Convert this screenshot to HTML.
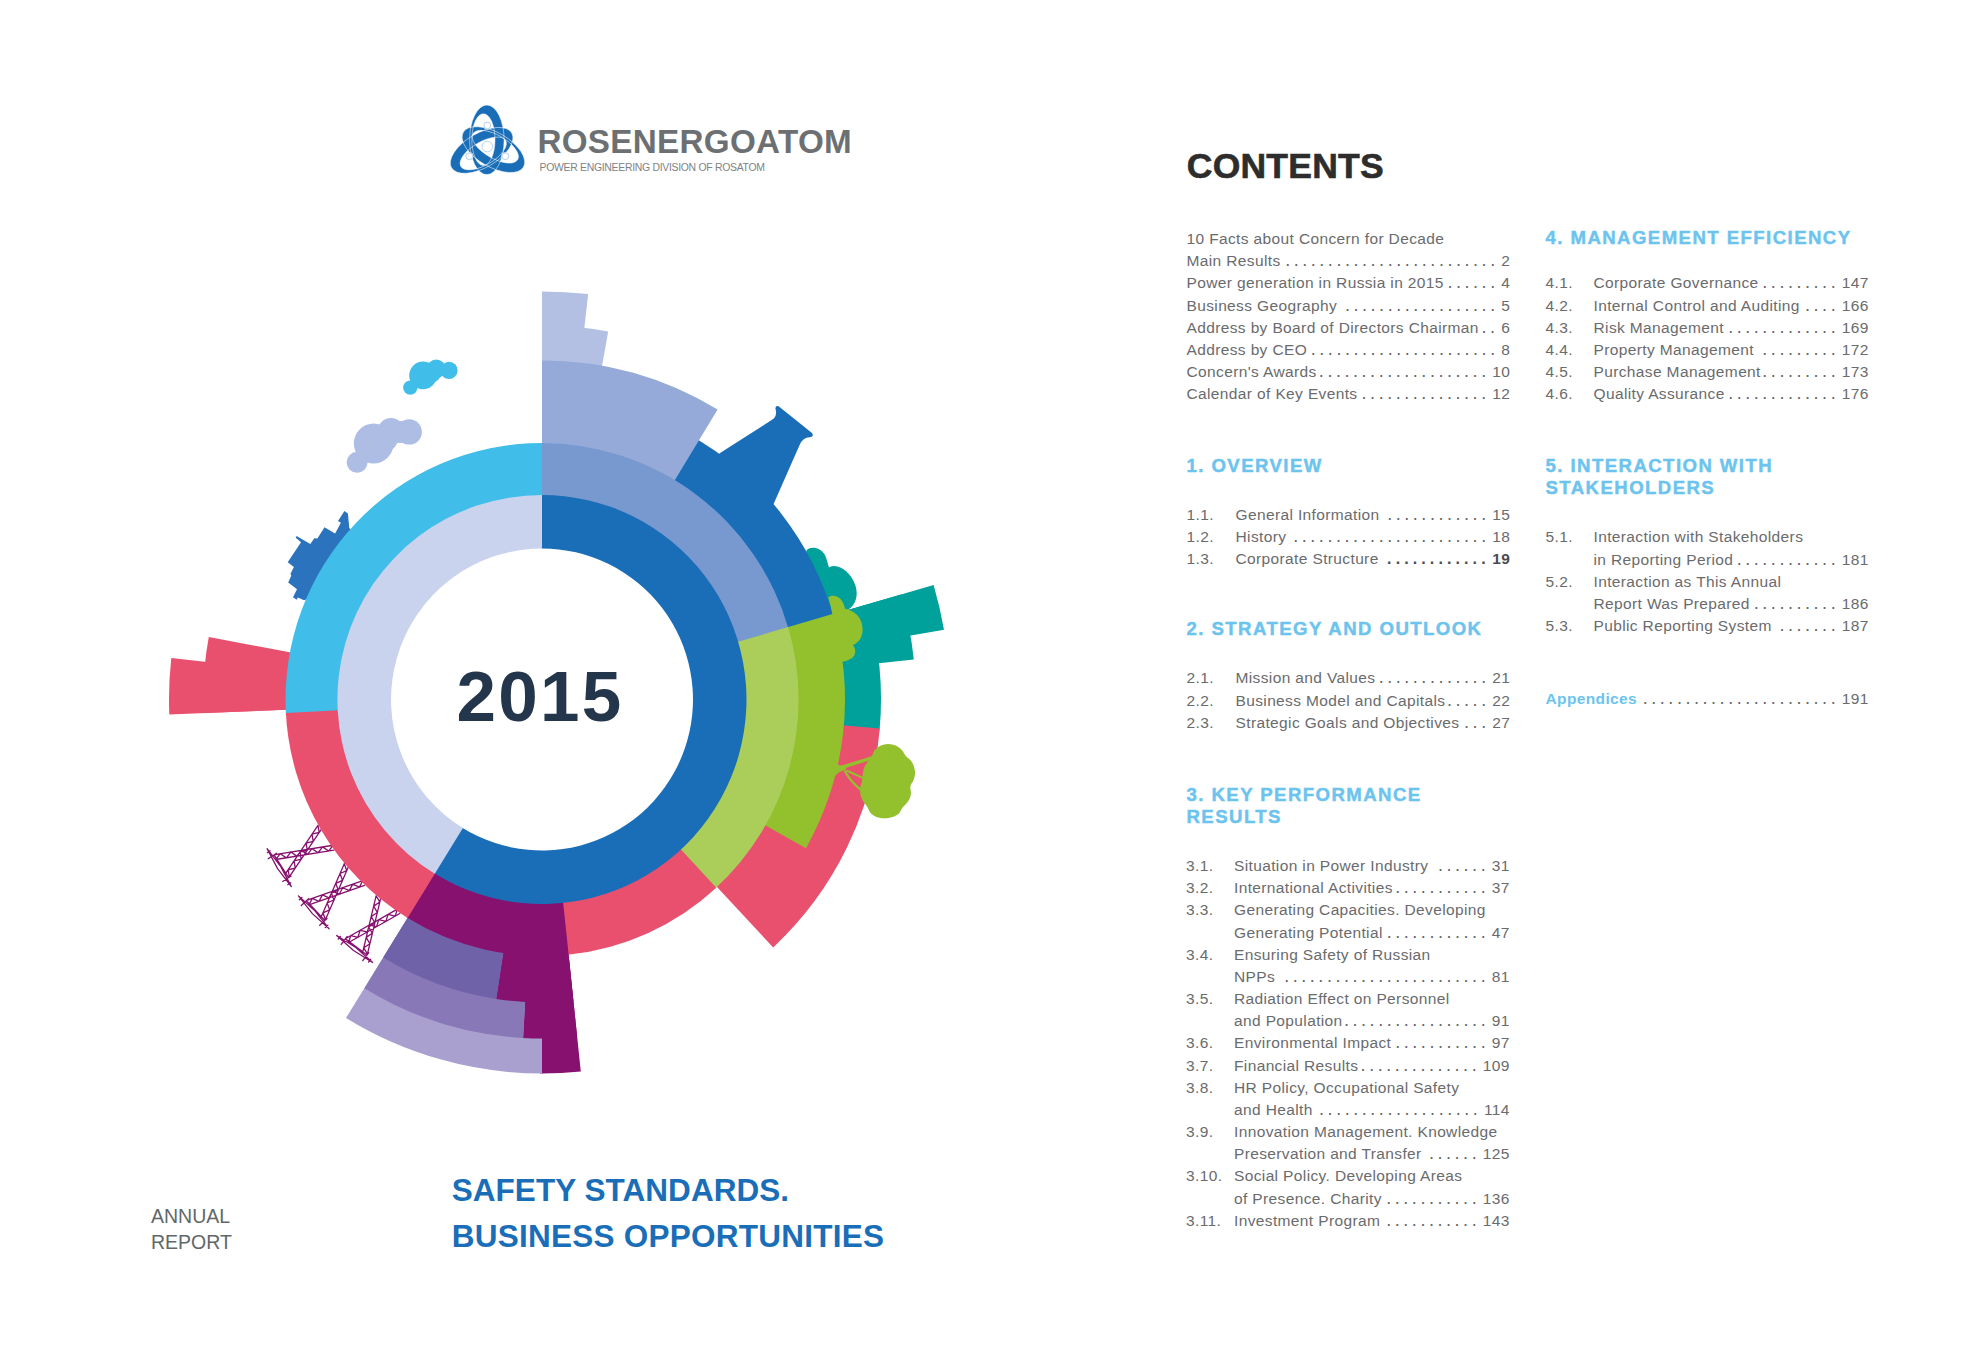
<!DOCTYPE html>
<html lang="en"><head><meta charset="utf-8"><title>Rosenergoatom Annual Report 2015 - Contents</title>
<style>
html,body{margin:0;padding:0;background:#fff}
body{width:1984px;height:1355px;position:relative;overflow:hidden;font-family:"Liberation Sans",sans-serif;color:#6a6b6d}
.art{position:absolute;left:0;top:0}
.abs{position:absolute;white-space:nowrap;line-height:1}
.brand{left:537.4px;top:125px;font-size:33.2px;font-weight:bold;color:#6d7073;letter-spacing:.33px}
.sub{left:539.5px;top:163.3px;font-size:10.45px;color:#808285;letter-spacing:-.3px}
.year{left:456.6px;top:661.3px;font-size:71px;font-weight:bold;color:#24364b;letter-spacing:2.2px}
.ar{left:151px;top:1203px;font-size:19.5px;line-height:26.2px;color:#5f6868}
.slogan{left:451.7px;font-size:31.5px;font-weight:bold;color:#1a6eb8}
.s1{top:1175.4px;letter-spacing:.05px}
.s2{top:1220.7px;letter-spacing:.25px}
.contents{left:1186.8px;top:149.1px;font-size:35.5px;font-weight:bold;color:#2d2d2d;letter-spacing:.22px;-webkit-text-stroke:.6px #2d2d2d}
.r{position:absolute;display:flex;align-items:baseline;height:22px;line-height:22px;font-size:15.5px;letter-spacing:.37px;white-space:nowrap;color:#6a6b6d}
.r .n{flex:none;display:inline-block}
.r .t{flex:none;white-space:pre}
.r .d{flex:1 1 0;min-width:0;text-align:right;white-space:pre;font-size:18px;line-height:20.2px;height:22px;letter-spacing:-.73px;color:#666769}
.r .p{flex:none;padding-left:6.9px}
.r .b{font-weight:bold;color:#4a4b4d}
.r .d.b{font-size:16px;letter-spacing:-.17px;line-height:21.6px}
.ap{color:#6cc4ee;font-weight:bold}
.h{position:absolute;white-space:nowrap;height:22px;line-height:22px;font-size:18.6px;font-weight:bold;letter-spacing:1.43px;color:#6cc4ee;-webkit-text-stroke:.45px #6cc4ee}
</style></head><body>
<svg class="art" width="1984" height="1355" viewBox="0 0 1984 1355">
<g transform="translate(326.8 837.2) rotate(237.4)" stroke="#87116f" stroke-width="1.3" fill="none" stroke-linecap="round" stroke-linejoin="round"><path d="M-10.2 1.0 L13.3 -53.0 M-14.8 -1.0 L8.7 -55.0 M-10.2 1.0 L-12.7 -5.9 M-12.7 -5.9 L-5.9 -8.8 M-5.9 -8.8 L-8.4 -15.7 M-8.4 -15.7 L-1.7 -18.6 M-1.7 -18.6 L-4.1 -25.5 M-4.1 -25.5 L2.6 -28.5 M2.6 -28.5 L0.2 -35.4 M0.2 -35.4 L6.9 -38.3 M6.9 -38.3 L4.4 -45.2 M4.4 -45.2 L11.2 -48.1 M11.2 -48.1 L8.7 -55.0 M14.8 -1.0 L-8.7 -55.0 M10.2 1.0 L-13.3 -53.0 M14.8 -1.0 L8.1 -3.9 M8.1 -3.9 L10.5 -10.8 M10.5 -10.8 L3.8 -13.7 M3.8 -13.7 L6.2 -20.6 M6.2 -20.6 L-0.5 -23.5 M-0.5 -23.5 L2.0 -30.5 M2.0 -30.5 L-4.7 -33.4 M-4.7 -33.4 L-2.3 -40.3 M-2.3 -40.3 L-9.0 -43.2 M-9.0 -43.2 L-6.6 -50.1 M-6.6 -50.1 L-13.3 -53.0 M-13.5 -54.0 L13.5 -54.0 M-22.5 -56.5 L0 -54.6 L22.5 -56.5 L0 -58.4 Z M-13.5 -51.0 L-13.5 -61.0 M13.5 -51.0 L13.5 -61.0 M-19.0 -55.0 L-19.0 -58.5 M19.0 -55.0 L19.0 -58.5"/></g>
<g transform="translate(355.1 873.8) rotate(227.0)" stroke="#87116f" stroke-width="1.3" fill="none" stroke-linecap="round" stroke-linejoin="round"><path d="M-10.2 1.0 L13.3 -53.0 M-14.8 -1.0 L8.7 -55.0 M-10.2 1.0 L-12.7 -5.9 M-12.7 -5.9 L-5.9 -8.8 M-5.9 -8.8 L-8.4 -15.7 M-8.4 -15.7 L-1.7 -18.6 M-1.7 -18.6 L-4.1 -25.5 M-4.1 -25.5 L2.6 -28.5 M2.6 -28.5 L0.2 -35.4 M0.2 -35.4 L6.9 -38.3 M6.9 -38.3 L4.4 -45.2 M4.4 -45.2 L11.2 -48.1 M11.2 -48.1 L8.7 -55.0 M14.8 -1.0 L-8.7 -55.0 M10.2 1.0 L-13.3 -53.0 M14.8 -1.0 L8.1 -3.9 M8.1 -3.9 L10.5 -10.8 M10.5 -10.8 L3.8 -13.7 M3.8 -13.7 L6.2 -20.6 M6.2 -20.6 L-0.5 -23.5 M-0.5 -23.5 L2.0 -30.5 M2.0 -30.5 L-4.7 -33.4 M-4.7 -33.4 L-2.3 -40.3 M-2.3 -40.3 L-9.0 -43.2 M-9.0 -43.2 L-6.6 -50.1 M-6.6 -50.1 L-13.3 -53.0 M-13.5 -54.0 L13.5 -54.0 M-22.5 -56.5 L0 -54.6 L22.5 -56.5 L0 -58.4 Z M-13.5 -51.0 L-13.5 -61.0 M13.5 -51.0 L13.5 -61.0 M-19.0 -55.0 L-19.0 -58.5 M19.0 -55.0 L19.0 -58.5"/></g>
<g transform="translate(388.6 903.8) rotate(216.9)" stroke="#87116f" stroke-width="1.3" fill="none" stroke-linecap="round" stroke-linejoin="round"><path d="M-10.2 1.0 L13.3 -53.0 M-14.8 -1.0 L8.7 -55.0 M-10.2 1.0 L-12.7 -5.9 M-12.7 -5.9 L-5.9 -8.8 M-5.9 -8.8 L-8.4 -15.7 M-8.4 -15.7 L-1.7 -18.6 M-1.7 -18.6 L-4.1 -25.5 M-4.1 -25.5 L2.6 -28.5 M2.6 -28.5 L0.2 -35.4 M0.2 -35.4 L6.9 -38.3 M6.9 -38.3 L4.4 -45.2 M4.4 -45.2 L11.2 -48.1 M11.2 -48.1 L8.7 -55.0 M14.8 -1.0 L-8.7 -55.0 M10.2 1.0 L-13.3 -53.0 M14.8 -1.0 L8.1 -3.9 M8.1 -3.9 L10.5 -10.8 M10.5 -10.8 L3.8 -13.7 M3.8 -13.7 L6.2 -20.6 M6.2 -20.6 L-0.5 -23.5 M-0.5 -23.5 L2.0 -30.5 M2.0 -30.5 L-4.7 -33.4 M-4.7 -33.4 L-2.3 -40.3 M-2.3 -40.3 L-9.0 -43.2 M-9.0 -43.2 L-6.6 -50.1 M-6.6 -50.1 L-13.3 -53.0 M-13.5 -54.0 L13.5 -54.0 M-22.5 -56.5 L0 -54.6 L22.5 -56.5 L0 -58.4 Z M-13.5 -51.0 L-13.5 -61.0 M13.5 -51.0 L13.5 -61.0 M-19.0 -55.0 L-19.0 -58.5 M19.0 -55.0 L19.0 -58.5"/></g>
<polygon points="349.3,528.1 347.9,513.5 344.4,511.1 338.0,521.0 340.9,522.8 335.1,533.4 324.5,527.2 317.4,538.5 314.3,538.3 310.3,544.0 296.6,536.1 295.7,537.8 301.0,542.3 287.7,562.2 293.9,567.1 290.4,574.1 291.3,575.5 288.2,582.6 297.0,589.2 293.0,597.2 296.6,599.8 297.9,597.6 304.1,600.3 330.0,590.0 360.0,540.0" fill="#2b74bd"/>
<path d="M 806.3 550.8 C 808.7 546.0 820.9 546.0 825.3 555.7 C 826.9 559.8 827.9 563.8 829.0 567.4 C 837.9 562.5 850.9 572.0 855.5 585.8 C 858.4 595.5 856.1 604.4 848.5 609.6 L 824.9 617.4 L 805.5 572.0 Z" fill="#00a19a"/>
<path d="M697.6 439.5 A303.0 303.0 0 0 1 833.1 615.5 L738.5 642.8 A204.5 204.5 0 0 0 647.0 524.0 Z" fill="#1a6eb8"/>
<path d="M719.3 453.4 L772 419.8 Q777.5 416 775.6 409.5 Q774.8 405.2 778.6 406.3 L812 433 Q814.5 436.5 810 437.2 Q803 437 799.6 445 L773.7 503.7 L750 520 L715 470 Z" fill="#1a6eb8"/>
<path d="M542.0 291.5 A408.0 408.0 0 0 1 588.2 294.1 L570.8 446.6 A254.5 254.5 0 0 0 542.0 445.0 Z" fill="#b3c0e4"/>
<path d="M542.0 325.5 A374.0 374.0 0 0 1 608.2 331.4 L587.1 449.0 A254.5 254.5 0 0 0 542.0 445.0 Z" fill="#b3c0e4"/>
<path d="M542.0 360.5 A339.0 339.0 0 0 1 717.6 409.5 L647.9 524.6 A204.5 204.5 0 0 0 542.0 495.0 Z" fill="#95aad8"/>
<path d="M933.6 585.0 A408.0 408.0 0 0 1 944.0 629.7 L792.7 656.0 A254.5 254.5 0 0 0 786.3 628.1 Z" fill="#00a19a"/>
<path d="M901.0 594.5 A374.0 374.0 0 0 1 913.8 659.4 L795.0 672.2 A254.5 254.5 0 0 0 786.3 628.1 Z" fill="#00a19a"/>
<path d="M867.4 604.4 A339.0 339.0 0 0 1 879.6 730.2 L795.5 722.6 A254.5 254.5 0 0 0 786.3 628.1 Z" fill="#00a19a"/>
<path d="M879.8 728.5 A339.0 339.0 0 0 1 773.2 947.4 L715.6 885.6 A254.5 254.5 0 0 0 795.6 721.2 Z" fill="#e9506e"/>
<path d="M832.7 614.0 A303.0 303.0 0 0 1 806.0 848.2 L720.2 799.9 A204.5 204.5 0 0 0 738.2 641.8 Z" fill="#93c02d"/>
<path d="M580.8 1071.5 A374.0 374.0 0 0 1 540.0 1073.5 L540.9 904.0 A204.5 204.5 0 0 0 563.2 902.9 Z" fill="#87116f"/>
<path d="M542.0 1073.5 A374.0 374.0 0 0 1 346.0 1018.0 L408.6 916.3 A254.5 254.5 0 0 0 542.0 954.0 Z" fill="#a9a0cf"/>
<path d="M577.1 1036.7 A339.0 339.0 0 0 1 523.1 1038.0 L530.6 903.7 A204.5 204.5 0 0 0 563.2 902.9 Z" fill="#87116f"/>
<path d="M523.1 1038.0 A339.0 339.0 0 0 1 364.4 988.2 L408.6 916.3 A254.5 254.5 0 0 0 527.8 953.6 Z" fill="#8878b7"/>
<path d="M573.4 1000.9 A303.0 303.0 0 0 1 496.2 999.0 L511.1 901.6 A204.5 204.5 0 0 0 563.2 902.9 Z" fill="#87116f"/>
<path d="M496.2 999.0 A303.0 303.0 0 0 1 383.2 957.6 L408.6 916.3 A254.5 254.5 0 0 0 503.5 951.1 Z" fill="#7062a9"/>
<path d="M169.3 714.5 A373.0 373.0 0 0 1 171.3 657.9 L338.8 676.7 A204.5 204.5 0 0 0 337.7 707.7 Z" fill="#e9506e"/>
<path d="M203.3 713.1 A339.0 339.0 0 0 1 208.8 637.1 L341.0 661.9 A204.5 204.5 0 0 0 337.7 707.7 Z" fill="#e9506e"/>
<path d="M540.7 443.0 A256.5 256.5 0 0 1 788.4 628.4 L737.5 643.1 A203.5 203.5 0 0 0 540.9 496.0 Z" fill="#7899d0"/>
<path d="M788.1 627.1 A256.5 256.5 0 0 1 715.3 888.6 L679.5 849.5 A203.5 203.5 0 0 0 737.2 642.0 Z" fill="#abcd5a"/>
<path d="M716.3 887.7 A256.5 256.5 0 0 1 567.3 954.8 L562.0 902.0 A203.5 203.5 0 0 0 680.3 848.8 Z" fill="#e9506e"/>
<path d="M568.6 954.6 A256.5 256.5 0 0 1 406.5 917.3 L434.5 872.3 A203.5 203.5 0 0 0 563.1 901.9 Z" fill="#87116f"/>
<path d="M407.6 918.0 A256.5 256.5 0 0 1 285.8 711.6 L338.7 709.1 A203.5 203.5 0 0 0 435.4 872.8 Z" fill="#e9506e"/>
<path d="M285.9 712.9 A256.5 256.5 0 0 1 542.0 443.0 L542.0 496.0 A203.5 203.5 0 0 0 338.8 710.2 Z" fill="#41bde9"/>
<path d="M540.9 495.0 A204.5 204.5 0 1 1 433.9 873.1 L462.2 827.7 A151.0 151.0 0 1 0 541.2 548.5 Z" fill="#1a6eb8"/>
<path d="M434.8 873.7 A204.5 204.5 0 0 1 542.0 495.0 L542.0 548.5 A151.0 151.0 0 0 0 462.9 828.1 Z" fill="#c9d3ee"/>
<path d="M 831.4 619.4 L 832.4 614.2 L 830.5 605.2 L 828.2 597.3 C 833.1 593.4 843.1 596.3 844.9 608.7 C 854.2 610.1 862.3 617.4 862.6 628.8 C 862.9 636.9 859.0 642.6 852.9 645.0 C 856.9 649.9 856.1 657.2 848.5 660.0 C 846.9 660.9 844.8 661.3 843.6 661.6 L 829.8 662.9 Z" fill="#93c02d"/>
<circle cx="410.3" cy="387.6" r="7.2" fill="#41bde9"/>
<circle cx="423.0" cy="375.4" r="13.8" fill="#41bde9"/>
<circle cx="436.3" cy="368.8" r="9.4" fill="#41bde9"/>
<circle cx="449.0" cy="370.4" r="8.6" fill="#41bde9"/>
<circle cx="431.0" cy="373.0" r="10.0" fill="#41bde9"/>
<circle cx="357.1" cy="462.3" r="10.5" fill="#adbde4"/>
<circle cx="373.7" cy="443.5" r="19.9" fill="#adbde4"/>
<circle cx="390.9" cy="431.3" r="13.3" fill="#adbde4"/>
<circle cx="409.2" cy="431.9" r="12.7" fill="#adbde4"/>
<circle cx="384.0" cy="438.0" r="14.0" fill="#adbde4"/>
<circle cx="400.0" cy="432.0" r="11.0" fill="#adbde4"/>
<path d="M868.2 761.6 Q871.5 758.2 872.6 754.3 Q873.8 750.3 877.0 747.8 Q880.1 745.3 884.1 744.5 Q888.1 743.6 892.4 744.6 Q896.7 745.6 899.7 747.9 Q902.7 750.3 904.0 753.3 Q905.3 756.2 908.0 757.9 Q910.7 759.6 912.5 762.9 Q914.3 766.2 914.8 769.9 Q915.3 773.5 914.5 777.2 Q913.6 780.8 911.7 783.3 Q909.7 785.8 910.5 789.0 Q911.3 792.1 910.7 795.4 Q910.0 798.7 908.0 801.4 Q906.0 804.1 904.0 805.9 Q902.0 807.7 901.0 810.2 Q900.0 812.7 897.4 814.7 Q894.7 816.7 889.7 817.7 Q884.8 818.8 880.4 818.1 Q876.1 817.3 873.1 815.3 Q870.2 813.4 868.8 810.0 Q867.5 806.7 865.2 804.1 Q862.8 801.4 861.4 797.7 Q859.9 794.1 860.0 790.4 Q860.2 786.8 861.2 784.1 Q862.2 781.5 862.5 776.8 Q862.8 772.2 863.8 768.5 Q864.8 764.9 868.2 761.6 Z" fill="#93c02d"/>
<path d="M838.3 768.4 L873 757.6" stroke="#93c02d" stroke-width="3.5" fill="none"/>
<path d="M846.5 770.5 L865 778.8" stroke="#93c02d" stroke-width="2" fill="none"/>
<path d="M844.5 770.5 Q850 781 861 790" stroke="#93c02d" stroke-width="2.3" fill="none"/>
<path d="M832 761.5 L840 765.5 L846 765 L846 769.5 L839.5 772 L833 777.5 Z" fill="#93c02d"/>
<g transform="translate(487.3 146.6)"><g transform="rotate(0)"><path fill-rule="evenodd" fill="#1a6eb8" d="M-17.7 -6.8 a17.25 34.8 0 1 0 34.5 0 a17.25 34.8 0 1 0 -34.5 0 Z M-15.5 -6.95 a11.6 25.85 0 1 1 23.2 0 a11.6 25.85 0 1 1 -23.2 0 Z"/></g><g transform="rotate(120)"><path fill-rule="evenodd" fill="#1a6eb8" d="M-17.7 -6.8 a17.25 34.8 0 1 0 34.5 0 a17.25 34.8 0 1 0 -34.5 0 Z M-15.5 -6.95 a11.6 25.85 0 1 1 23.2 0 a11.6 25.85 0 1 1 -23.2 0 Z"/></g><g transform="rotate(240)"><path fill-rule="evenodd" fill="#1a6eb8" d="M-17.7 -6.8 a17.25 34.8 0 1 0 34.5 0 a17.25 34.8 0 1 0 -34.5 0 Z M-15.5 -6.95 a11.6 25.85 0 1 1 23.2 0 a11.6 25.85 0 1 1 -23.2 0 Z"/></g><g transform="rotate(0)"><path fill="none" stroke="#fff" stroke-width="0.5" d="M-17.7 -6.8 a17.25 34.8 0 1 0 34.5 0 a17.25 34.8 0 1 0 -34.5 0 Z M-15.5 -6.95 a11.6 25.85 0 1 1 23.2 0 a11.6 25.85 0 1 1 -23.2 0 Z"/></g><g transform="rotate(120)"><path fill="none" stroke="#fff" stroke-width="0.5" d="M-17.7 -6.8 a17.25 34.8 0 1 0 34.5 0 a17.25 34.8 0 1 0 -34.5 0 Z M-15.5 -6.95 a11.6 25.85 0 1 1 23.2 0 a11.6 25.85 0 1 1 -23.2 0 Z"/></g><g transform="rotate(240)"><path fill="none" stroke="#fff" stroke-width="0.5" d="M-17.7 -6.8 a17.25 34.8 0 1 0 34.5 0 a17.25 34.8 0 1 0 -34.5 0 Z M-15.5 -6.95 a11.6 25.85 0 1 1 23.2 0 a11.6 25.85 0 1 1 -23.2 0 Z"/></g><circle r="6.1" fill="#fff"/><circle r="5.3" fill="none" stroke="#6a9fd2" stroke-width="0.45"/><circle cx="0.0" cy="-21.2" r="4" fill="#fff"/><circle cx="0.0" cy="-21.2" r="3.4" fill="none" stroke="#5b93cc" stroke-width="0.45"/><circle cx="-18.0" cy="9.7" r="4" fill="#fff"/><circle cx="-18.0" cy="9.7" r="3.4" fill="none" stroke="#5b93cc" stroke-width="0.45"/><circle cx="18.0" cy="9.7" r="4" fill="#fff"/><circle cx="18.0" cy="9.7" r="3.4" fill="none" stroke="#5b93cc" stroke-width="0.45"/></g>
</svg>
<div class="abs brand">ROSENERGOATOM</div>
<div class="abs sub">POWER ENGINEERING DIVISION OF ROSATOM</div>
<div class="abs year">2015</div>
<div class="abs ar">ANNUAL<br>REPORT</div>
<div class="abs slogan s1">SAFETY STANDARDS.</div>
<div class="abs slogan s2">BUSINESS OPPORTUNITIES</div>
<div class="abs contents">CONTENTS</div>
<div class="r " style="left:1186.5px;top:228.1px;width:323.8px"><span class="t">10 Facts about Concern for Decade</span></div>
<div class="r " style="left:1186.5px;top:250.3px;width:323.8px"><span class="t">Main Results</span><span class="d">. . . . . . . . . . . . . . . . . . . . . . . . .</span><span class="p">2</span></div>
<div class="r " style="left:1186.5px;top:272.4px;width:323.8px"><span class="t">Power generation in Russia in 2015</span><span class="d">. . . . . .</span><span class="p">4</span></div>
<div class="r " style="left:1186.5px;top:294.5px;width:323.8px"><span class="t">Business Geography</span><span class="d">. . . . . . . . . . . . . . . . . .</span><span class="p">5</span></div>
<div class="r " style="left:1186.5px;top:316.6px;width:323.8px"><span class="t">Address by Board of Directors Chairman</span><span class="d">. .</span><span class="p">6</span></div>
<div class="r " style="left:1186.5px;top:338.8px;width:323.8px"><span class="t">Address by CEO</span><span class="d">. . . . . . . . . . . . . . . . . . . . . .</span><span class="p">8</span></div>
<div class="r " style="left:1186.5px;top:360.9px;width:323.8px"><span class="t">Concern's Awards</span><span class="d">. . . . . . . . . . . . . . . . . . . .</span><span class="p">10</span></div>
<div class="r " style="left:1186.5px;top:383.0px;width:323.8px"><span class="t">Calendar of Key Events</span><span class="d">. . . . . . . . . . . . . . .</span><span class="p">12</span></div>
<div class="h" style="left:1186.5px;top:454.6px">1. OVERVIEW</div>
<div class="r " style="left:1186.5px;top:503.7px;width:323.8px"><span class="n" style="width:49px">1.1.</span><span class="t">General Information</span><span class="d">. . . . . . . . . . . .</span><span class="p">15</span></div>
<div class="r " style="left:1186.5px;top:526.0px;width:323.8px"><span class="n" style="width:49px">1.2.</span><span class="t">History</span><span class="d">. . . . . . . . . . . . . . . . . . . . . . .</span><span class="p">18</span></div>
<div class="r " style="left:1186.5px;top:548.2px;width:323.8px"><span class="n" style="width:49px">1.3.</span><span class="t">Corporate Structure</span><span class="d b">. . . . . . . . . . . .</span><span class="p b">19</span></div>
<div class="h" style="left:1186.5px;top:618.2px">2. STRATEGY AND OUTLOOK</div>
<div class="r " style="left:1186.5px;top:667.4px;width:323.8px"><span class="n" style="width:49px">2.1.</span><span class="t">Mission and Values</span><span class="d">. . . . . . . . . . . . .</span><span class="p">21</span></div>
<div class="r " style="left:1186.5px;top:689.7px;width:323.8px"><span class="n" style="width:49px">2.2.</span><span class="t">Business Model and Capitals</span><span class="d">. . . . .</span><span class="p">22</span></div>
<div class="r " style="left:1186.5px;top:711.9px;width:323.8px"><span class="n" style="width:49px">2.3.</span><span class="t">Strategic Goals and Objectives</span><span class="d">. . .</span><span class="p">27</span></div>
<div class="h" style="left:1186.5px;top:783.6px">3. KEY PERFORMANCE</div>
<div class="h" style="left:1186.5px;top:805.8px">RESULTS</div>
<div class="r " style="left:1186.0px;top:855.0px;width:323.8px"><span class="n" style="width:48px">3.1.</span><span class="t">Situation in Power Industry</span><span class="d">. . . . . .</span><span class="p">31</span></div>
<div class="r " style="left:1186.0px;top:877.2px;width:323.8px"><span class="n" style="width:48px">3.2.</span><span class="t">International Activities</span><span class="d">. . . . . . . . . . .</span><span class="p">37</span></div>
<div class="r " style="left:1186.0px;top:899.4px;width:323.8px"><span class="n" style="width:48px">3.3.</span><span class="t">Generating Capacities. Developing</span></div>
<div class="r " style="left:1186.0px;top:921.5px;width:323.8px"><span class="n" style="width:48px"></span><span class="t">Generating Potential</span><span class="d">. . . . . . . . . . . .</span><span class="p">47</span></div>
<div class="r " style="left:1186.0px;top:943.7px;width:323.8px"><span class="n" style="width:48px">3.4.</span><span class="t">Ensuring Safety of Russian</span></div>
<div class="r " style="left:1186.0px;top:965.9px;width:323.8px"><span class="n" style="width:48px"></span><span class="t">NPPs</span><span class="d">. . . . . . . . . . . . . . . . . . . . . . . .</span><span class="p">81</span></div>
<div class="r " style="left:1186.0px;top:988.0px;width:323.8px"><span class="n" style="width:48px">3.5.</span><span class="t">Radiation Effect on Personnel</span></div>
<div class="r " style="left:1186.0px;top:1010.2px;width:323.8px"><span class="n" style="width:48px"></span><span class="t">and Population</span><span class="d">. . . . . . . . . . . . . . . . .</span><span class="p">91</span></div>
<div class="r " style="left:1186.0px;top:1032.4px;width:323.8px"><span class="n" style="width:48px">3.6.</span><span class="t">Environmental Impact</span><span class="d">. . . . . . . . . . .</span><span class="p">97</span></div>
<div class="r " style="left:1186.0px;top:1054.6px;width:323.8px"><span class="n" style="width:48px">3.7.</span><span class="t">Financial Results</span><span class="d">. . . . . . . . . . . . . .</span><span class="p">109</span></div>
<div class="r " style="left:1186.0px;top:1076.7px;width:323.8px"><span class="n" style="width:48px">3.8.</span><span class="t">HR Policy, Occupational Safety</span></div>
<div class="r " style="left:1186.0px;top:1098.9px;width:323.8px"><span class="n" style="width:48px"></span><span class="t">and Health</span><span class="d">. . . . . . . . . . . . . . . . . . .</span><span class="p">114</span></div>
<div class="r " style="left:1186.0px;top:1121.1px;width:323.8px"><span class="n" style="width:48px">3.9.</span><span class="t">Innovation Management. Knowledge</span></div>
<div class="r " style="left:1186.0px;top:1143.2px;width:323.8px"><span class="n" style="width:48px"></span><span class="t">Preservation and Transfer</span><span class="d">. . . . . .</span><span class="p">125</span></div>
<div class="r " style="left:1186.0px;top:1165.4px;width:323.8px"><span class="n" style="width:48px">3.10.</span><span class="t">Social Policy. Developing Areas</span></div>
<div class="r " style="left:1186.0px;top:1187.6px;width:323.8px"><span class="n" style="width:48px"></span><span class="t">of Presence. Charity</span><span class="d">. . . . . . . . . . .</span><span class="p">136</span></div>
<div class="r " style="left:1186.0px;top:1209.7px;width:323.8px"><span class="n" style="width:48px">3.11.</span><span class="t">Investment Program</span><span class="d">. . . . . . . . . . .</span><span class="p">143</span></div>
<div class="h" style="left:1545.5px;top:226.9px">4. MANAGEMENT EFFICIENCY</div>
<div class="r " style="left:1545.5px;top:272.3px;width:323.3px"><span class="n" style="width:48px">4.1.</span><span class="t">Corporate Governance</span><span class="d">. . . . . . . . .</span><span class="p">147</span></div>
<div class="r " style="left:1545.5px;top:294.5px;width:323.3px"><span class="n" style="width:48px">4.2.</span><span class="t">Internal Control and Auditing</span><span class="d">. . . .</span><span class="p">166</span></div>
<div class="r " style="left:1545.5px;top:316.6px;width:323.3px"><span class="n" style="width:48px">4.3.</span><span class="t">Risk Management</span><span class="d">. . . . . . . . . . . . .</span><span class="p">169</span></div>
<div class="r " style="left:1545.5px;top:338.7px;width:323.3px"><span class="n" style="width:48px">4.4.</span><span class="t">Property Management</span><span class="d">. . . . . . . . .</span><span class="p">172</span></div>
<div class="r " style="left:1545.5px;top:360.8px;width:323.3px"><span class="n" style="width:48px">4.5.</span><span class="t">Purchase Management</span><span class="d">. . . . . . . . .</span><span class="p">173</span></div>
<div class="r " style="left:1545.5px;top:383.0px;width:323.3px"><span class="n" style="width:48px">4.6.</span><span class="t">Quality Assurance</span><span class="d">. . . . . . . . . . . . .</span><span class="p">176</span></div>
<div class="h" style="left:1545.5px;top:454.6px">5. INTERACTION WITH</div>
<div class="h" style="left:1545.5px;top:476.8px">STAKEHOLDERS</div>
<div class="r " style="left:1545.5px;top:526.3px;width:323.3px"><span class="n" style="width:48px">5.1.</span><span class="t">Interaction with Stakeholders</span></div>
<div class="r " style="left:1545.5px;top:548.5px;width:323.3px"><span class="n" style="width:48px"></span><span class="t">in Reporting Period</span><span class="d">. . . . . . . . . . . .</span><span class="p">181</span></div>
<div class="r " style="left:1545.5px;top:570.7px;width:323.3px"><span class="n" style="width:48px">5.2.</span><span class="t">Interaction as This Annual</span></div>
<div class="r " style="left:1545.5px;top:592.9px;width:323.3px"><span class="n" style="width:48px"></span><span class="t">Report Was Prepared</span><span class="d">. . . . . . . . . .</span><span class="p">186</span></div>
<div class="r " style="left:1545.5px;top:615.0px;width:323.3px"><span class="n" style="width:48px">5.3.</span><span class="t">Public Reporting System</span><span class="d">. . . . . . .</span><span class="p">187</span></div>
<div class="r " style="left:1545.5px;top:687.6px;width:323.3px"><span class="t"><b class="ap">Appendices</b></span><span class="d">. . . . . . . . . . . . . . . . . . . . . . .</span><span class="p">191</span></div>
</body></html>
